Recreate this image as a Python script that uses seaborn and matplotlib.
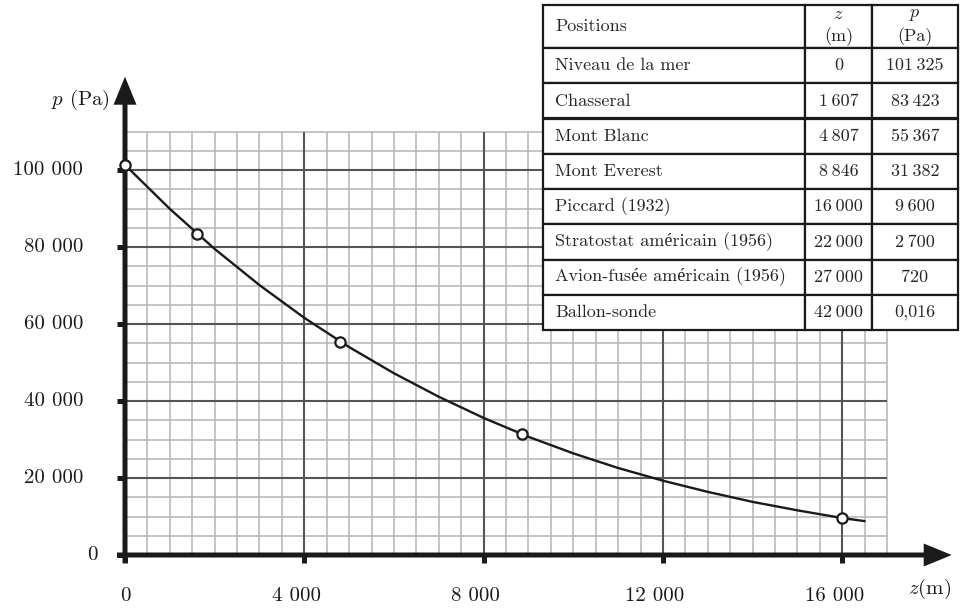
import numpy as np
import matplotlib
matplotlib.use("Agg")
import matplotlib.pyplot as plt
from matplotlib.table import Table
from matplotlib.transforms import offset_copy
import seaborn as sns

# table data
positions = ["Niveau de la mer", "Chasseral", "Mont Blanc", "Mont Everest",
             "Piccard (1932)", "Stratostat américain (1956)",
             "Avion-fusée américain (1956)", "Ballon-sonde"]
table_z = [0, 1607, 4807, 8846, 16000, 22000, 27000, 42000]
table_p = [101325, 83423, 55367, 31382, 9600, 2700, 720, 0.016]

# points shown on the graph (those with z <= 16 000 m)
point_z = table_z[:5]
point_p = table_p[:5]

# curve (every 1000 m)
curve_z = [0, 1000, 2000, 3000, 4000, 5000, 6000, 7000, 8000, 9000, 10000,
           11000, 12000, 13000, 14000, 15000, 16000, 16500]
curve_p = [101325, 89900, 79500, 70100, 61600, 54000, 47200, 41100, 35600,
           30700, 26400, 22600, 19300, 16400, 13800, 11600, 9600, 8800]

x_ticks = [0, 4000, 8000, 12000, 16000]
y_ticks = [0, 20000, 40000, 60000, 80000, 100000]

sns.set_style("white")
plt.rcParams["font.family"] = ["cmr10", "Liberation Serif", "DejaVu Serif"]
plt.rcParams["mathtext.fontset"] = "cm"
plt.rcParams["axes.formatter.use_mathtext"] = True

# pixel scale of the original drawing
PX_X = 0.04483   # px per metre
PX_Y = 0.00385   # px per pascal
X0, Y0 = 125, 555

fig = plt.figure(figsize=(9.64, 6.09), dpi=100)
ax = fig.add_axes([0, 0, 1, 1])
ax.set_xlim(-X0 / PX_X, (964 - X0) / PX_X)
ax.set_ylim((Y0 - 609) / PX_Y, Y0 / PX_Y)
ax.axis("off")

black = "#1a1a1a"
minor_c = "#b4b4b4"
major_c = "#555555"

# graph paper
zmax, pmax = 17000, 110000
ax.vlines(np.arange(500, zmax + 1, 500), 0, pmax, colors=minor_c, lw=1.1, zorder=1)
ax.hlines(np.arange(5000, pmax + 1, 5000), 0, zmax, colors=minor_c, lw=1.1, zorder=1)
ax.vlines(np.arange(4000, zmax + 1, 4000), 0, pmax, colors=major_c, lw=1.5, zorder=2)
ax.hlines(np.arange(20000, pmax + 1, 20000), 0, zmax, colors=major_c, lw=1.5, zorder=2)

# axes with arrows
lw_ax = 5
ax.arrow(-8 / PX_X, 0, 18441 + 8 / PX_X, 0, width=lw_ax / PX_Y,
         head_width=23 / PX_Y, head_length=28 / PX_X, length_includes_head=True,
         color=black, lw=0, zorder=3)
ax.arrow(0, -8 / PX_Y, 0, 124230 + 8 / PX_Y, width=lw_ax / PX_X,
         head_width=23 / PX_X, head_length=28 / PX_Y, length_includes_head=True,
         color=black, lw=0, zorder=3)
ax.vlines(x_ticks, -8 / PX_Y, 0, colors=black, lw=3.6, zorder=3)
ax.hlines(y_ticks, -8 / PX_X, 0, colors=black, lw=3.6, zorder=3)

# tick labels
for v in x_ticks:
    lab = f"{v:,}".replace(",", " ")
    dx = 0 if v == 0 else -8
    tr = offset_copy(ax.transData, fig=fig, x=dx, y=0, units="dots")
    ax.text(v, -41 / PX_Y, lab, ha="center", va="center", fontsize=15,
            color=black, transform=tr)
for v in y_ticks:
    lab = f"{v:,}".replace(",", " ")
    dx = -27 if v == 0 else -42
    tr = offset_copy(ax.transData, fig=fig, x=dx, y=0, units="dots")
    ax.text(0, v, lab, ha="right", va="center", fontsize=15, color=black,
            transform=tr)

ax.text(-15 / PX_X, (Y0 - 100) / PX_Y, "$p$ (Pa)", ha="right", va="center",
        fontsize=15, color=black)
ax.text((930 - X0) / PX_X, (Y0 - 589) / PX_Y, "$z$(m)", ha="center", va="center",
        fontsize=15, color=black)

# curve and measured points
sns.lineplot(x=curve_z, y=curve_p, ax=ax, color=black, lw=1.7, zorder=4)
sns.scatterplot(x=point_z, y=point_p, ax=ax, marker="o", s=55,
                facecolor="white", edgecolor=black, linewidth=1.6, zorder=5)


def fmt(v):
    if v < 1:
        return f"{v}".replace(".", ",")
    return f"{int(v):,}".replace(",", "\u2009")


# table in the top right
fw, fh = 964, 609
tbl = Table(ax, bbox=[543 / fw, 1 - 330 / fh, 415 / fw, 325 / fh])
col_w = [262, 67, 86]
header = ["Positions", "$z$\n(m)", "$p$\n(Pa)"]
rows = [header] + [[n, fmt(z), fmt(p)] for n, z, p in zip(positions, table_z, table_p)]
for r, row in enumerate(rows):
    h = 43 if r == 0 else 35.25
    for c, txt in enumerate(row):
        cell = tbl.add_cell(r, c, width=col_w[c], height=h, text=txt,
                            loc="left" if c == 0 else "center",
                            edgecolor=black, facecolor="white")
        cell.set_linewidth(1.6)
        if c == 0:
            cell.PAD = 0.046
        if r == 0 and c > 0:
            cell.get_text().set_linespacing(1.35)
tbl.auto_set_font_size(False)
tbl.set_fontsize(13)
tbl.set_zorder(6)
ax.add_table(tbl)

fig.savefig("out.png", dpi=100)
